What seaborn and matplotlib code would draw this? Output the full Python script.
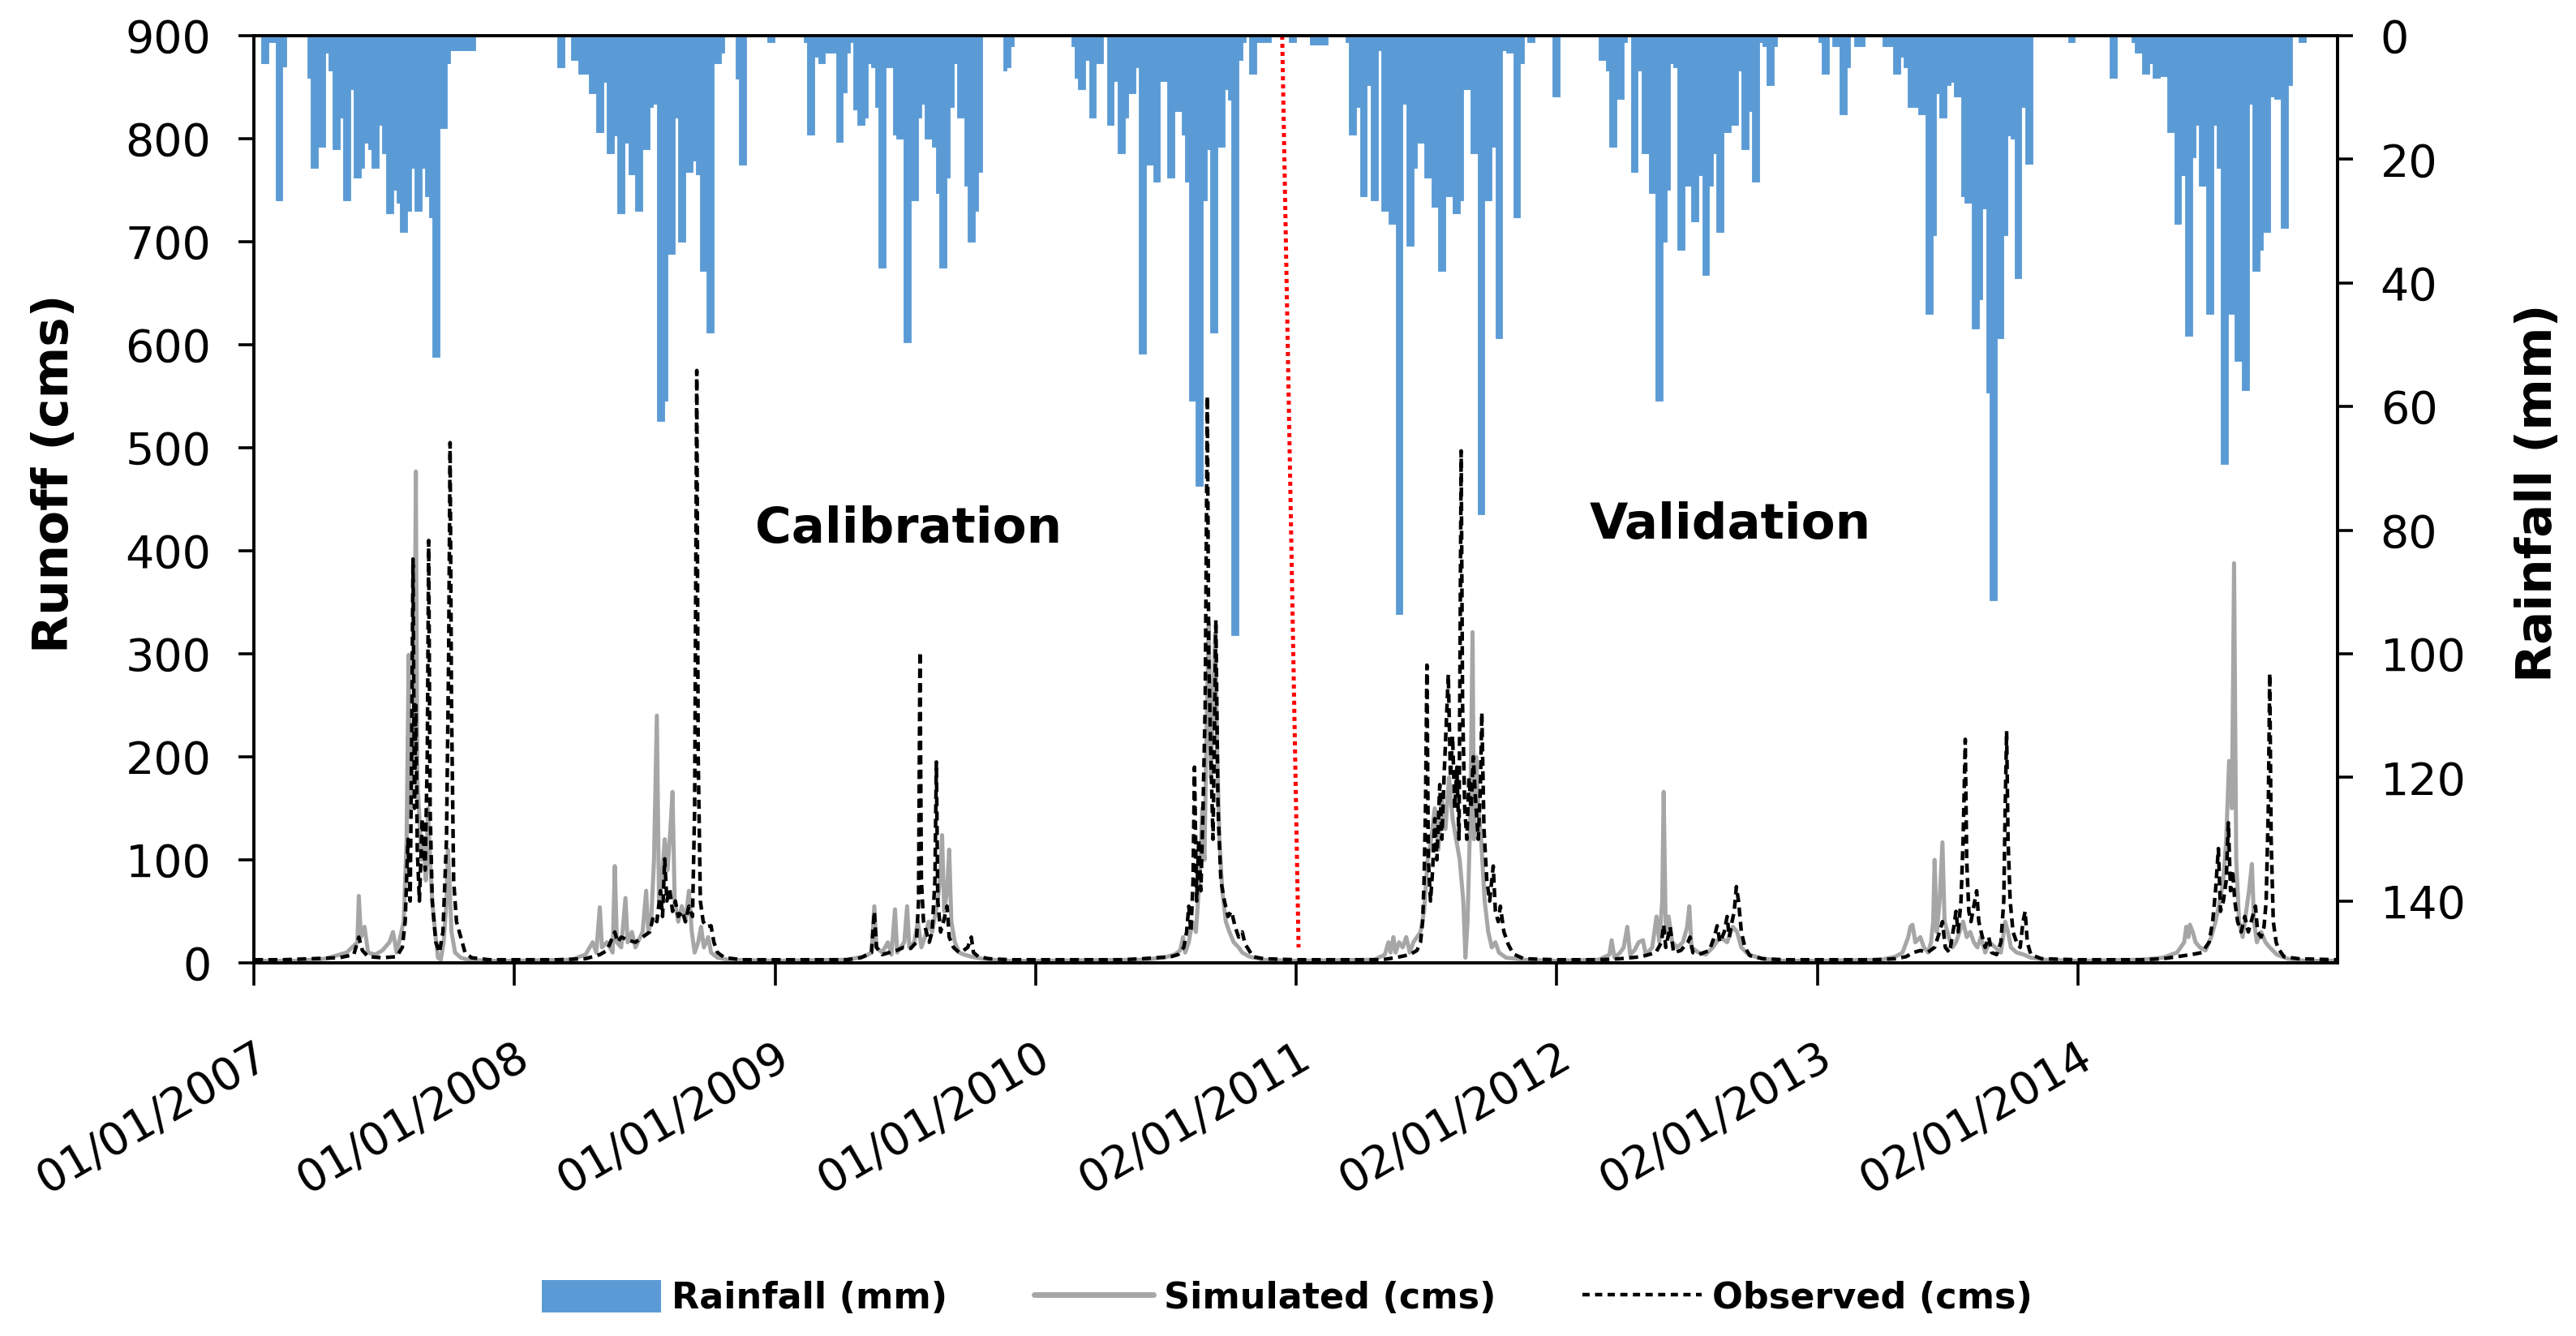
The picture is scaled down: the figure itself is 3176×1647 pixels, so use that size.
# plot.py
# Daily runoff (simulated vs observed) with inverted rainfall bars, 2007-2014.
# Saves out.png

import numpy as np
import pandas as pd
import matplotlib
matplotlib.use("Agg")
import matplotlib.pyplot as plt
from matplotlib.patches import Patch
from matplotlib.lines import Line2D
import seaborn as sns

# ── 1. DATA ──────────────────────────────────────────────────────────────────

YEARS = [2007, 2008, 2009, 2010, 2011, 2012, 2013, 2014]

# rainfall (mm), one value per 5-day block, starting at RAIN_START day-of-year
RAIN_START = [10, 60, 40, 50, 20, 0, 2, 46]
RAIN_2007 = [4.5, 4.5, 1, 1, 26.6, 26.6, 5, 0, 0, 0, 0, 0, 0,
             6.8, 21.4, 21.4, 18, 18, 2.8, 5.7, 18.4, 18.4, 13.3, 26.6, 26.6, 8.7,
             23, 23, 21.4, 17.3, 18.4, 21.4, 21.4, 14.4, 19, 28.8, 28.8, 24.9, 27,
             31.8, 31.8, 28.3, 21.4, 28.3, 28.3, 21.4, 26, 29.4, 52, 52, 15, 15, 4.5,
             2.3, 2.3, 2.3, 2.3, 2.3, 2.3, 2.3]
RAIN_2008 = [5.1, 5.1, 0, 0, 4, 4, 6.2, 6.2, 6.2, 9.3, 9.3, 15.6, 15.6, 7.5, 19, 19,
             16.2, 28.8, 28.8, 17.3, 22.5, 22.5, 28.3, 28.3, 18.4, 18.4, 11.5, 11,
             62.4, 62.4, 59, 35.3, 35.3, 13.3, 33.4, 33.4, 22, 22, 20.2, 22.5, 38, 38,
             48, 48, 4.5, 4.5, 2.8, 0, 0, 0, 7, 20.9, 20.9, 0, 0, 0, 0, 0, 0, 1, 1]
RAIN_2009 = [1, 16, 16, 3.4, 4.5, 4.5, 2.8, 2.8, 2.8, 17.2, 17.2, 9.2, 2.8, 1, 12,
             14.4, 14.4, 13.3, 4.5, 5.1, 11.5, 37.5, 37.5, 5.1, 5.1, 16, 16.7, 16.7,
             49.6, 49.6, 26.6, 26.6, 13.3, 11, 16.7, 16.7, 18, 25.4, 37.5, 37.5, 23,
             11.5, 4.5, 13.3, 13.3, 24.3, 33.4, 33.4, 28.3, 22, 0, 0, 0, 0, 0, 0,
             5.7, 5.1, 1.7]
RAIN_2010 = [1.7, 6.8, 8.7, 8.7, 4, 13.2, 13.2, 4.5, 4.5, 0, 14.4, 14.4, 7.4, 19, 19,
             13.2, 9.3, 9.3, 5.1, 51.4, 51.4, 20.9, 20.9, 23.6, 23.6, 7.4, 7.4, 23, 23,
             12.2, 12.2, 16, 23.6, 59, 59, 72.9, 72.9, 26.6, 18.4, 48, 48, 18, 18, 8.7,
             10.4, 97, 97, 4, 1, 0, 6.2, 6.2, 1, 1, 1, 1, 0, 0, 0, 0, 0, 1, 1]
RAIN_2011 = [1.5, 1.5, 1.5, 1.5, 1.5, 0, 0, 0, 0, 0, 1, 16, 16, 11.5, 26, 26, 8,
             26.6, 26.6, 2.3, 28.3, 28.3, 30.5, 30.5, 93.6, 93.6, 11, 34, 34, 21.4,
             17.3, 17.3, 23, 23, 27.7, 27.7, 38, 38, 26, 26, 28.8, 28.8, 26.6, 8.7, 8.7,
             19, 19, 77.4, 77.4, 26.6, 26.6, 18, 49, 49, 2.3, 2.8, 2.8, 29.4, 29.4, 4.5,
             0, 1, 1, 0, 0, 0, 0, 0, 9.8]
RAIN_2012 = [9.8, 0, 0, 0, 0, 0, 0, 0, 0, 0, 0, 0, 4, 4, 5.7, 18, 18, 10.3, 10.3, 1,
             0, 22, 22, 5.7, 19, 19, 25.4, 25.4, 59, 59, 33.4, 24.9, 4.5, 5.1, 34.7,
             34.7, 24.3, 24.3, 30, 30, 22.6, 38.7, 38.7, 24.3, 19, 31.8, 31.8, 15.6,
             15.6, 14.4, 14.4, 5.7, 18.4, 18.4, 12.2, 23.6, 23.6, 1, 1.7, 8, 8, 1.7]
RAIN_2013 = [1, 6.2, 6.2, 0, 1.7, 1.7, 12.7, 12.7, 5.1, 0, 1.7, 1.7, 1.7, 0, 0, 0, 0,
             0, 1.7, 1.7, 1.7, 6.2, 6.2, 3.4, 5.1, 11.5, 11.5, 11.5, 12.7, 12.7, 45,
             45, 32.3, 9.3, 13.2, 13.2, 8, 7.5, 9.8, 9.8, 26, 27, 27, 47.4, 47.4, 42.7,
             27.9, 57.8, 91.3, 91.3, 49, 49, 32.3, 16.2, 16.7, 39.2, 39.2, 11.5, 20.7,
             20.7, 0, 0, 0, 0, 0, 0, 0, 0, 0, 0, 1, 1]
RAIN_2014 = [6.8, 6.8, 0, 0, 0, 0, 1, 2.8, 2.8, 6.2, 6.2, 4.5, 6.8, 6.8, 6.5, 6.5,
             15.6, 15.6, 30.5, 30.5, 22.6, 48.6, 48.6, 19.7, 14.4, 24.3, 24.3, 45, 45,
             14.4, 21.4, 69.3, 69.3, 45, 45, 52.6, 52.6, 57.3, 57.3, 11, 38, 38, 34.7,
             31.8, 31.8, 9.8, 10.3, 10.3, 31.1, 31.1, 8, 0, 0, 1, 1]

# runoff (cms) as (day-of-year, value) points
OBS_2007 = [(0, 3), (40, 3), (80, 4), (120, 5), (140, 8), (147, 25), (152, 12), (160, 6),
            (180, 5), (200, 6), (208, 15), (212, 40), (216, 120), (219, 60), (221, 200),
            (223, 392), (225, 150), (227, 250), (229, 110), (232, 60), (236, 140),
            (240, 90), (243, 200), (245, 410), (247, 150), (250, 60), (255, 20), (260, 10),
            (265, 30), (270, 120), (273, 300), (275, 505), (277, 250), (280, 80), (284, 40),
            (290, 25), (296, 10), (305, 5), (330, 3), (364, 3)]
SIM_2007 = [(0, 2), (60, 2), (100, 4), (130, 10), (145, 20), (147, 65), (150, 25), (155, 35),
            (160, 10), (170, 8), (180, 12), (190, 20), (195, 30), (200, 10), (205, 25),
            (210, 40), (214, 120), (217, 299), (219, 150), (222, 200), (225, 250), (227, 477),
            (229, 180), (232, 140), (235, 100), (238, 120), (241, 80), (244, 150), (247, 100),
            (250, 60), (254, 30), (258, 5), (262, 3), (266, 20), (270, 60), (272, 110),
            (274, 80), (277, 30), (282, 10), (290, 5), (300, 3), (330, 2), (364, 2)]
OBS_2008 = [(0, 3), (60, 3), (100, 4), (120, 8), (130, 12), (141, 30), (145, 20), (150, 25),
            (160, 22), (170, 20), (180, 25), (190, 30), (195, 45), (200, 40), (205, 70),
            (208, 45), (211, 101), (214, 60), (218, 72), (222, 50), (226, 60), (230, 45),
            (236, 50), (240, 40), (245, 55), (250, 45), (253, 150), (256, 575), (258, 200),
            (261, 60), (265, 40), (270, 35), (276, 36), (280, 20), (285, 10), (295, 5),
            (320, 3), (365, 3)]
SIM_2008 = [(0, 2), (80, 3), (100, 8), (110, 20), (115, 10), (120, 54), (123, 15), (130, 20),
            (138, 10), (141, 94), (144, 20), (150, 15), (156, 63), (159, 20), (165, 30),
            (170, 15), (180, 30), (185, 70), (188, 30), (192, 40), (196, 100), (200, 240),
            (203, 60), (207, 80), (211, 120), (215, 90), (219, 130), (222, 166), (225, 60),
            (230, 40), (235, 55), (240, 40), (245, 70), (249, 30), (253, 10), (258, 20),
            (262, 35), (266, 15), (272, 25), (276, 10), (285, 5), (300, 3), (365, 2)]
OBS_2009 = [(0, 3), (100, 3), (120, 5), (135, 10), (139, 50), (142, 15), (150, 8), (160, 10),
            (170, 12), (180, 15), (190, 14), (198, 20), (201, 60), (203, 302), (205, 80),
            (208, 40), (212, 30), (216, 20), (220, 30), (224, 80), (226, 195), (228, 60),
            (232, 30), (236, 40), (241, 55), (244, 25), (250, 15), (258, 10), (264, 12),
            (270, 15), (275, 25), (278, 10), (285, 6), (300, 4), (330, 3), (364, 3)]
SIM_2009 = [(0, 2), (100, 3), (125, 6), (135, 10), (139, 55), (142, 15), (150, 10), (158, 20),
            (163, 8), (168, 52), (171, 10), (176, 15), (181, 20), (185, 55), (188, 15),
            (195, 20), (200, 40), (205, 15), (210, 25), (215, 40), (220, 30), (228, 60),
            (232, 90), (234, 124), (237, 50), (241, 70), (244, 110), (247, 40), (252, 20),
            (258, 10), (265, 8), (275, 6), (290, 4), (320, 2), (364, 2)]
OBS_2010 = [(0, 3), (120, 3), (150, 4), (170, 5), (190, 6), (200, 8), (208, 15), (212, 30),
            (215, 55), (218, 30), (221, 80), (223, 190), (226, 60), (229, 120), (232, 70),
            (235, 150), (238, 250), (241, 550), (243, 300), (246, 200), (249, 120),
            (253, 333), (256, 150), (260, 80), (265, 60), (270, 45), (275, 50), (280, 35),
            (285, 25), (290, 30), (294, 18), (297, 15), (305, 6), (320, 4), (364, 3)]
SIM_2010 = [(0, 2), (150, 3), (180, 5), (195, 8), (203, 12), (207, 25), (210, 10), (215, 20),
            (220, 40), (225, 30), (230, 80), (234, 150), (237, 100), (240, 230), (243, 330),
            (246, 180), (249, 250), (252, 320), (255, 200), (258, 120), (262, 70), (267, 40),
            (272, 30), (278, 20), (285, 15), (290, 10), (300, 6), (320, 3), (364, 2)]
OBS_2011 = [(0, 3), (120, 3), (140, 5), (160, 8), (170, 12), (175, 20), (178, 40), (180, 80),
            (182, 150), (184, 289), (186, 100), (189, 60), (192, 90), (195, 140), (198, 100),
            (202, 173), (205, 120), (208, 180), (211, 230), (214, 280), (217, 180),
            (220, 220), (223, 150), (226, 190), (229, 120), (232, 497), (234, 250),
            (237, 150), (240, 120), (243, 180), (246, 150), (249, 200), (252, 160),
            (256, 120), (259, 170), (261, 243), (264, 130), (268, 80), (272, 60), (277, 94),
            (280, 50), (284, 40), (287, 55), (292, 30), (298, 18), (304, 10), (307, 8),
            (320, 4), (364, 3)]
SIM_2011 = [(0, 2), (110, 3), (125, 8), (130, 20), (133, 10), (137, 25), (140, 10), (145, 20),
            (150, 15), (155, 25), (160, 10), (165, 20), (170, 25), (175, 30), (180, 50),
            (185, 100), (190, 120), (195, 150), (200, 110), (205, 160), (210, 130),
            (215, 180), (220, 140), (225, 120), (230, 100), (235, 60), (238, 5), (241, 40),
            (245, 150), (248, 321), (250, 120), (253, 200), (256, 150), (260, 120),
            (265, 60), (270, 30), (275, 15), (280, 20), (285, 10), (295, 5), (320, 3),
            (364, 2)]
OBS_2012 = [(0, 3), (60, 3), (90, 4), (120, 6), (140, 10), (148, 20), (151, 37), (154, 15),
            (160, 35), (165, 10), (175, 12), (185, 20), (188, 25), (192, 10), (200, 8),
            (215, 12), (222, 25), (226, 36), (230, 20), (236, 30), (240, 45), (243, 25),
            (246, 37), (250, 50), (253, 74), (256, 60), (260, 30), (265, 15), (272, 7),
            (290, 4), (320, 3), (365, 3)]
SIM_2012 = [(0, 2), (60, 3), (75, 8), (78, 22), (82, 5), (90, 10), (95, 15), (100, 35),
            (104, 8), (110, 12), (116, 20), (122, 22), (126, 8), (135, 15), (141, 45),
            (145, 20), (149, 60), (151, 166), (154, 30), (158, 45), (163, 20), (170, 15),
            (178, 20), (184, 35), (187, 55), (190, 15), (200, 10), (210, 8), (220, 15),
            (230, 25), (240, 20), (248, 35), (254, 30), (260, 15), (270, 8), (290, 4),
            (320, 2), (365, 2)]
OBS_2013 = [(0, 3), (80, 3), (110, 4), (125, 6), (135, 10), (145, 12), (155, 10), (165, 15),
            (172, 30), (176, 40), (180, 15), (186, 10), (192, 35), (195, 50), (198, 30),
            (202, 60), (205, 120), (208, 217), (210, 100), (213, 50), (216, 40), (220, 55),
            (224, 70), (227, 40), (232, 25), (236, 15), (241, 25), (245, 10), (252, 8),
            (258, 20), (262, 60), (264, 150), (266, 225), (268, 120), (271, 60), (275, 30),
            (280, 20), (285, 15), (289, 40), (292, 50), (295, 20), (300, 8), (315, 4),
            (364, 3)]
SIM_2013 = [(0, 2), (90, 3), (110, 6), (120, 10), (128, 25), (131, 35), (134, 37), (138, 20),
            (145, 25), (150, 15), (156, 10), (160, 20), (163, 40), (165, 100), (168, 30),
            (172, 60), (176, 117), (179, 40), (185, 25), (190, 15), (195, 20), (200, 30),
            (205, 40), (210, 25), (215, 30), (220, 20), (225, 15), (230, 25), (236, 10),
            (242, 20), (250, 15), (258, 10), (264, 40), (268, 30), (272, 15), (280, 10),
            (290, 8), (300, 5), (320, 3), (364, 2)]
OBS_2014 = [(0, 3), (90, 3), (120, 4), (140, 6), (160, 8), (175, 10), (185, 20), (190, 40),
            (194, 70), (198, 111), (201, 50), (205, 60), (209, 80), (212, 136), (215, 70),
            (218, 90), (221, 60), (225, 40), (230, 30), (235, 45), (240, 30), (244, 40),
            (248, 50), (250, 55), (253, 30), (258, 25), (262, 35), (265, 60), (268, 150),
            (270, 281), (272, 120), (275, 40), (279, 20), (282, 14), (290, 6), (310, 4),
            (364, 3)]
SIM_2014 = [(0, 2), (90, 3), (120, 5), (140, 10), (150, 20), (153, 35), (156, 25), (158, 37),
            (162, 30), (166, 20), (172, 15), (180, 12), (188, 25), (194, 40), (200, 60),
            (205, 80), (209, 120), (213, 196), (217, 150), (220, 388), (223, 100), (227, 40),
            (232, 25), (237, 50), (241, 70), (245, 96), (248, 40), (252, 20), (258, 30),
            (264, 20), (270, 15), (280, 8), (295, 4), (320, 2), (364, 2)]

TICK_DATES  = ["2007-01-01", "2008-01-01", "2009-01-01", "2010-01-01",
               "2011-01-02", "2012-01-02", "2013-01-02", "2014-01-02"]
TICK_LABELS = ["01/01/2007", "01/01/2008", "01/01/2009", "01/01/2010",
               "02/01/2011", "02/01/2012", "02/01/2013", "02/01/2014"]

SPLIT_DATES  = ["2010-12-13", "2011-01-05"]   # calibration / validation divider
SPLIT_VALUES = [900, 15]

RAIN   = [RAIN_2007, RAIN_2008, RAIN_2009, RAIN_2010, RAIN_2011, RAIN_2012, RAIN_2013, RAIN_2014]
OBS    = [OBS_2007, OBS_2008, OBS_2009, OBS_2010, OBS_2011, OBS_2012, OBS_2013, OBS_2014]
SIM    = [SIM_2007, SIM_2008, SIM_2009, SIM_2010, SIM_2011, SIM_2012, SIM_2013, SIM_2014]

RAIN_COLOR = "#5B9BD5"
SIM_COLOR  = "#A6A6A6"

# ── 2. BUILD FRAMES ──────────────────────────────────────────────────────────

def knots_to_frame(year, knots):
    jan1 = pd.Timestamp(year=year, month=1, day=1)
    return pd.DataFrame({
        "date":  jan1 + pd.to_timedelta([k[0] for k in knots], unit="D"),
        "value": [k[1] for k in knots],
    })

obs_df = pd.concat([knots_to_frame(y, k) for y, k in zip(YEARS, OBS)], ignore_index=True)
sim_df = pd.concat([knots_to_frame(y, k) for y, k in zip(YEARS, SIM)], ignore_index=True)

rain_frames = []
for year, first, vals in zip(YEARS, RAIN_START, RAIN):
    start = pd.Timestamp(year=year, month=1, day=1) + pd.Timedelta(days=first)
    rain_frames.append(pd.DataFrame({
        "date": start + pd.to_timedelta(np.arange(len(vals)) * 5, unit="D"),
        "mm":   vals,
    }))
rain_df = pd.concat(rain_frames, ignore_index=True)

# ── 3. PLOT ──────────────────────────────────────────────────────────────────

sns.set_style("white")
plt.rcParams["font.family"] = ["DejaVu Sans"]
plt.rcParams["text.color"] = "black"
plt.rcParams["axes.labelcolor"] = "black"

fig = plt.figure(figsize=(15.88, 8.235), dpi=200)
ax = fig.add_axes([0.0986, 0.2793, 0.8088, 0.694])

sns.lineplot(data=sim_df, x="date", y="value", ax=ax, color=SIM_COLOR,
             lw=1.8, estimator=None)
sns.lineplot(data=obs_df, x="date", y="value", ax=ax, color="black",
             lw=1.6, linestyle=(0, (2.5, 1.5)), estimator=None)
ax.plot(pd.to_datetime(SPLIT_DATES), SPLIT_VALUES, color="red", lw=1.8,
        linestyle=(0, (1, 1)))

ax.set_xlim(pd.Timestamp("2007-01-01"), pd.Timestamp("2015-01-01"))
ax.set_ylim(0, 900)
ax.set_yticks(range(0, 901, 100))
ax.set_xticks(pd.to_datetime(TICK_DATES))
ax.set_xticklabels(TICK_LABELS, rotation=30, ha="right", va="top",
                   rotation_mode="anchor")
ax.set_xlabel("")
ax.set_ylabel("Runoff (cms)", fontsize=22, fontweight="bold", color="black")
ax.yaxis.set_label_coords(-0.084, 0.528)

ax2 = ax.twinx()
ax2.bar(rain_df["date"], rain_df["mm"], width=5, align="edge",
        color=RAIN_COLOR, edgecolor=RAIN_COLOR, linewidth=0.3)
ax2.set_ylim(150, 0)
ax2.set_yticks(range(0, 141, 20))
ax2.set_ylabel("Rainfall (mm)", fontsize=22, fontweight="bold", color="black")
ax2.yaxis.set_label_coords(1.085, 0.507)

for a in (ax, ax2):
    for s in a.spines.values():
        s.set_color("black")
        s.set_linewidth(1.3)
ax.tick_params(axis="y", direction="out", length=7, width=1.3, pad=12,
               labelsize=20, colors="black", left=True)
ax.tick_params(axis="x", direction="out", length=10, width=1.3, pad=22,
               labelsize=20, colors="black", bottom=True)
ax2.tick_params(axis="y", direction="out", length=7, width=1.3, pad=12,
                labelsize=20, colors="black", right=True)

ax.text(0.314, 0.468, "Calibration", transform=ax.transAxes, fontsize=22,
        fontweight="bold", ha="center", va="center", color="black")
ax.text(0.7085, 0.4716, "Validation", transform=ax.transAxes, fontsize=22,
        fontweight="bold", ha="center", va="center", color="black")

handles = [
    Patch(facecolor=RAIN_COLOR, edgecolor="none", label="Rainfall (mm)"),
    Line2D([], [], color=SIM_COLOR, lw=2.5, label="Simulated (cms)"),
    Line2D([], [], color="black", lw=1.6, linestyle=(0, (2, 1.5)), label="Observed (cms)"),
]
leg = fig.legend(handles=handles, loc="center", bbox_to_anchor=(0.4997, 0.0285), ncol=3,
                 frameon=False, prop={"weight": "bold", "size": 16}, handlelength=3.3,
                 handleheight=1.0, handletextpad=0.3, columnspacing=2.4)
for t in leg.get_texts():
    t.set_color("black")

fig.savefig("out.png", dpi=200)
print("saved out.png")
